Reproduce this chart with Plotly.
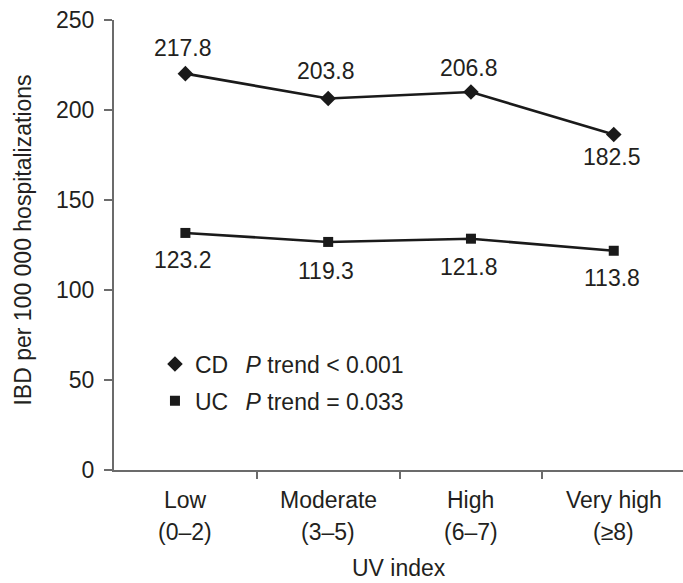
import plotly.graph_objects as go

categories = ["Low", "Moderate", "High", "Very high"]
ranges = ["(0–2)", "(3–5)", "(6–7)", "(≥8)"]
cd_values = [220.2, 206.4, 210.0, 186.4]
uc_values = [131.7, 126.7, 128.5, 121.8]
cd_labels = ["217.8", "203.8", "206.8", "182.5"]
uc_labels = ["123.2", "119.3", "121.8", "113.8"]
cd_label_shift = [26, 27, 24, -23]
uc_label_shift = [-27, -29, -28, -27]
y_ticks = [0, 50, 100, 150, 200, 250]

FONT = "Liberation Sans, Arial, sans-serif"
TXT = "#231f20"
LINE = "#1a1a1a"
AX = "#6b6b6b"
FS = 23

x = list(range(len(categories)))

fig = go.Figure()
fig.add_trace(go.Scatter(x=x, y=cd_values, mode="lines", line=dict(color=LINE, width=2.6),
                         showlegend=False, hoverinfo="skip"))
fig.add_trace(go.Scatter(x=x, y=uc_values, mode="lines", line=dict(color=LINE, width=2.6),
                         showlegend=False, hoverinfo="skip"))
fig.add_trace(go.Scatter(x=x, y=cd_values, mode="markers", legendgroup="cd",
                         marker=dict(symbol="diamond", size=12, color=LINE),
                         name="CD\u00a0\u2009 <i>P</i> trend &lt; 0.001"))
fig.add_trace(go.Scatter(x=x, y=uc_values, mode="markers", legendgroup="uc",
                         marker=dict(symbol="square", size=10, color=LINE),
                         name="UC\u00a0\u2009 <i>P</i> trend = 0.033"))

ann = []
for xi, v, t, s in zip(x, cd_values, cd_labels, cd_label_shift):
    ann.append(dict(x=xi, y=v, text=t, showarrow=False, yshift=s, xshift=-2,
                    font=dict(size=FS, color=TXT, family=FONT)))
for xi, v, t, s in zip(x, uc_values, uc_labels, uc_label_shift):
    ann.append(dict(x=xi, y=v, text=t, showarrow=False, yshift=s, xshift=-2,
                    font=dict(size=FS, color=TXT, family=FONT)))
for xi, c, r in zip(x, categories, ranges):
    ann.append(dict(x=xi, y=-0.0667, xref="x", yref="paper", text=c, showarrow=False,
                    yanchor="middle", font=dict(size=FS, color=TXT, family=FONT)))
    ann.append(dict(x=xi, y=-0.1378, xref="x", yref="paper", text=r, showarrow=False,
                    yanchor="middle", font=dict(size=FS, color=TXT, family=FONT)))
ann.append(dict(x=0.5, y=-0.218, xref="paper", yref="paper", text="UV index", showarrow=False,
                yanchor="middle", font=dict(size=FS, color=TXT, family=FONT)))
ann.append(dict(x=-0.1600, y=0.512, xref="paper", yref="paper",
                text="IBD per 100 000 hospitalizations", textangle=-90, showarrow=False,
                xanchor="center", yanchor="middle", font=dict(size=FS, color=TXT, family=FONT)))

fig.update_layout(
    width=683, height=583,
    margin=dict(l=114, r=0, t=20, b=113),
    paper_bgcolor="white", plot_bgcolor="white",
    font=dict(family=FONT, size=FS, color=TXT),
    showlegend=True,
    legend=dict(x=0.072, y=0.2833, xanchor="left", yanchor="top", bgcolor="rgba(0,0,0,0)",
                font=dict(size=FS, color=TXT, family=FONT), tracegroupgap=4,
                traceorder="grouped"),
    annotations=ann,
    xaxis=dict(range=[-0.5, 3.485], showgrid=False, zeroline=False, showline=True,
               linecolor=AX, linewidth=2, tickvals=[0.5, 1.5, 2.5], ticks="outside",
               ticklen=7, tickwidth=2, tickcolor=AX, showticklabels=False, fixedrange=True),
    yaxis=dict(range=[0, 250], showgrid=False, zeroline=False, showline=True,
               linecolor=AX, linewidth=2, tickvals=y_ticks, ticks="outside",
               ticklen=8, tickwidth=2, tickcolor=AX, ticklabelstandoff=5,
               tickfont=dict(size=FS, color=TXT, family=FONT), fixedrange=True),
)

fig.write_html("out.html")
